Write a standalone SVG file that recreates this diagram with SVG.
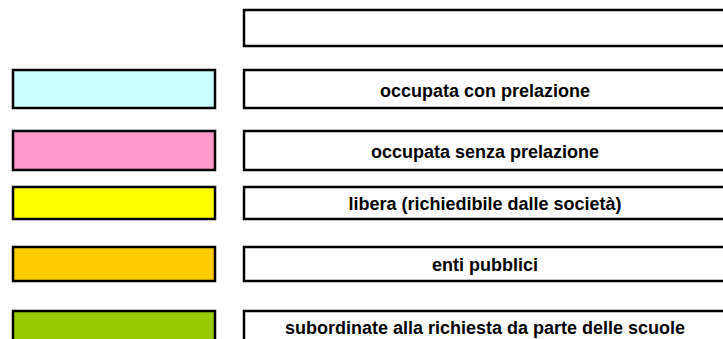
<svg xmlns="http://www.w3.org/2000/svg" width="723" height="339" viewBox="0 0 723 339">
<style>
.box{fill:#fff;stroke:#000;stroke-width:2.5}
.sw{stroke:#000;stroke-width:2.5}
.t{font-family:"Liberation Sans",Arial,sans-serif;font-weight:bold;font-size:18px;fill:#000;text-anchor:middle}
</style>
<rect width="723" height="339" fill="#fff"/>
<g id="header"><rect class="box" x="244" y="10" width="484" height="36"/></g>
<g id="row1">
<rect class="sw" x="13" y="70" width="202" height="38" fill="#ccffff"/>
<rect class="box" x="244" y="70" width="484" height="38"/>
<text class="t" x="485" y="96.5">occupata con prelazione</text>
</g>
<g id="row2">
<rect class="sw" x="13" y="131" width="202" height="39" fill="#ff99cc"/>
<rect class="box" x="244" y="131" width="484" height="39"/>
<text class="t" x="485" y="157.5">occupata senza prelazione</text>
</g>
<g id="row3">
<rect class="sw" x="13" y="187" width="202" height="32" fill="#ffff00"/>
<rect class="box" x="244" y="187" width="484" height="32"/>
<text class="t" x="485" y="210">libera (richiedibile dalle società)</text>
</g>
<g id="row4">
<rect class="sw" x="13" y="247" width="202" height="34" fill="#ffcc00"/>
<rect class="box" x="244" y="247" width="484" height="34"/>
<text class="t" x="485" y="271">enti pubblici</text>
</g>
<g id="row5">
<rect class="sw" x="13" y="311" width="202" height="40" fill="#99cc00"/>
<rect class="box" x="244" y="311" width="484" height="40"/>
<text class="t" x="485" y="334">subordinate alla richiesta da parte delle scuole</text>
</g>
<g id="connectors"/>
</svg>
